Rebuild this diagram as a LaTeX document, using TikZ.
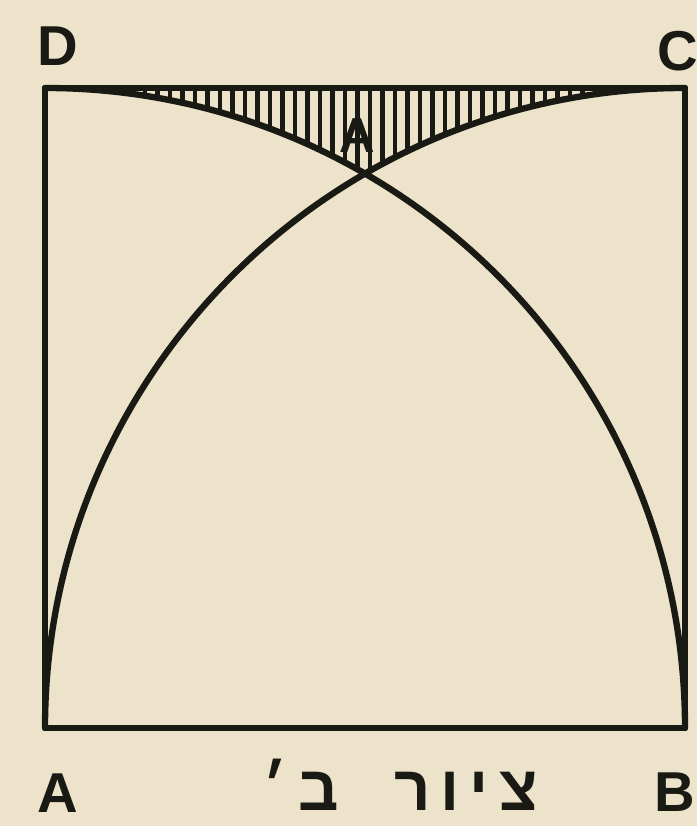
\documentclass[tikz,border=0pt]{standalone}
\usepackage{fontspec}
\setmainfont{Liberation Sans}
\newfontfamily\hebfont[Script=Hebrew,LetterSpace=16]{Liberation Sans}
\TeXXeTstate=1
\usepackage{tikz}
\definecolor{paper}{HTML}{EDE3CB}
\definecolor{ink}{HTML}{1A1A14}
\tikzset{
    edge/.style={draw=ink,line width=3.6pt,line cap=round,line join=round},
    hatch/.style={draw=ink,line width=2.3pt},
    corner/.style={text=ink,font=\fontsize{32}{34}\selectfont\bfseries}
}
\begin{document}
\begin{tikzpicture}
    \fill[paper] (0,0) rectangle (13.94,16.52);
    \useasboundingbox (0,0) rectangle (13.94,16.52);
    \coordinate (A) at (0.9,1.96);
    \coordinate (B) at (13.7,1.96);
    \coordinate (C) at (13.7,14.76);
    \coordinate (D) at (0.9,14.76);
    % hatched region between the arcs and DC
    \begin{scope}
        \clip (D) arc[start angle=90,end angle=60,radius=12.8] arc[start angle=120,end angle=90,radius=12.8] -- cycle;
        \foreach \x in {1.9,2.15,...,12.8} \draw[hatch] (\x,12.9) -- (\x,14.9);
    \end{scope}
    \draw[edge] (A) -- (B) -- (C) -- (D) -- cycle;
    \draw[edge] (A) arc[start angle=180,end angle=90,radius=12.8];
    \draw[edge] (B) arc[start angle=0,end angle=90,radius=12.8];
    \node[corner] (lD) at (1.15,15.6) {D};
    \node[corner] (lC) at (13.55,15.5) {C};
    \node[corner] (lA) at (1.15,0.65) {A};
    \node[corner] (lB) at (13.5,0.68) {B};
    \node[text=ink,font=\fontsize{28}{30}\selectfont\bfseries] (lP) at (7.15,13.8) {A};
    \node[text=ink,font=\fontsize{36}{38}\selectfont\bfseries,anchor=base,inner sep=1pt] (cap) at (8.0,0.3) {\hebfont\beginR ציור\ \ ב׳\endR};
\end{tikzpicture}
\end{document}
